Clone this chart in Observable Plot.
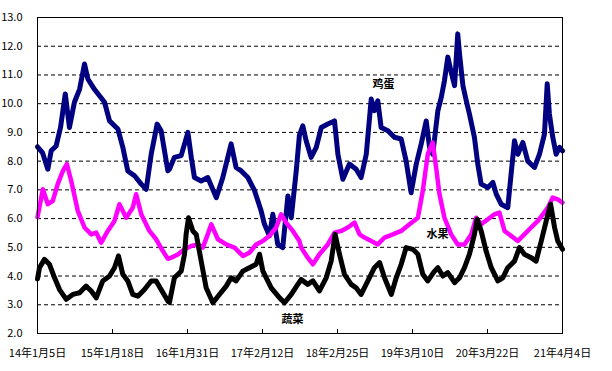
<!DOCTYPE html>
<html>
<head>
<meta charset="utf-8">
<script src="https://cdn.jsdelivr.net/npm/d3@7"></script>
<script src="https://cdn.jsdelivr.net/npm/@observablehq/plot@0.6"></script>
<style>
  html, body { margin: 0; padding: 0; background: #fff; }
  #chart { width: 612px; height: 371px; overflow: hidden; }
</style>
</head>
<body>
<div id="chart"></div>
<script>
// x = day index counted from 2014-01-05 (Excel date category axis)
const tickDays = [0, 378, 756, 1134, 1512, 1890, 2268, 2646];
const tickLabels = ["14年1月5日", "15年1月18日", "16年1月31日", "17年2月12日", "18年2月25日", "19年3月10日", "20年3月22日", "21年4月4日"];
const yTicks = [2, 3, 4, 5, 6, 7, 8, 9, 10, 11, 12, 13];
const gridValues = [3, 4, 5, 6, 7, 8, 9, 10, 11, 12];

// 鸡蛋 (egg)
const eggDays = [0,25,52,69,94,116,140,161,186,212,237,254,287,338,363,405,430,455,489,523,548,573,603,623,657,665,690,724,758,775,791,825,858,901,934,959,976,1001,1027,1060,1094,1127,1144,1169,1186,1211,1236,1262,1279,1304,1320,1337,1354,1379,1405,1430,1463,1497,1514,1539,1572,1606,1631,1657,1682,1698,1715,1732,1766,1799,1833,1858,1883,1909,1934,1959,1976,1992,2018,2035,2051,2068,2085,2102,2118,2127,2144,2161,2177,2202,2219,2236,2270,2295,2312,2337,2370,2387,2404,2421,2446,2471,2505,2530,2555,2569,2580,2597,2614,2631,2646];
const eggValues = [8.5,8.3,7.72,8.36,8.53,9.17,10.34,9.17,10.05,10.5,11.38,10.86,10.5,10.05,9.4,9.12,8.48,7.66,7.49,7.2,7.02,8.24,9.29,9.06,7.66,7.72,8.13,8.19,9.0,8.13,7.43,7.31,7.43,6.73,7.43,8.13,8.6,7.78,7.66,7.43,6.97,6.27,5.8,5.4,6.15,5.1,4.99,6.79,6.03,7.66,8.9,9.23,8.71,8.13,8.48,9.17,9.29,9.4,8.24,7.37,7.9,7.72,7.43,8.24,10.16,9.76,10.1,9.17,9.06,8.83,8.77,8.0,6.9,7.9,8.6,9.4,8.48,8.24,9.76,10.22,10.8,11.62,11.1,10.63,12.43,11.73,10.63,10.1,9.64,8.83,7.9,7.2,7.08,7.26,6.85,6.5,6.38,7.55,8.71,8.24,8.65,8.0,7.78,8.24,8.94,10.69,9.64,8.83,8.24,8.48,8.36];

// 水果 (fruit)
const fruitDays = [0,27,52,77,102,128,148,170,203,237,271,296,321,354,388,413,447,480,497,523,564,598,632,657,674,707,741,775,808,833,858,876,909,951,993,1035,1068,1102,1136,1169,1203,1228,1253,1287,1320,1329,1362,1388,1421,1463,1497,1531,1564,1598,1623,1648,1682,1715,1749,1791,1833,1875,1917,1942,1967,1992,2009,2026,2051,2085,2118,2152,2186,2211,2236,2270,2303,2328,2354,2387,2421,2454,2488,2522,2547,2572,2597,2622,2646];
const fruitValues = [6.05,7.02,6.5,6.62,7.2,7.66,7.9,7.31,6.27,5.69,5.45,5.51,5.16,5.57,5.92,6.5,6.03,6.38,6.85,6.15,5.57,5.28,4.87,4.6,4.64,4.75,4.93,5.05,5.1,4.99,5.45,5.8,5.28,5.1,4.99,4.7,4.81,5.1,5.22,5.4,5.69,6.15,5.86,5.57,5.22,4.99,4.64,4.41,4.76,5.1,5.51,5.57,5.69,5.86,5.45,5.34,5.22,5.1,5.34,5.45,5.57,5.8,6.03,6.97,8.24,8.65,7.78,6.85,6.03,5.45,5.1,5.1,5.45,6.03,5.8,5.98,6.15,6.21,5.57,5.4,5.22,5.45,5.69,5.92,6.15,6.38,6.73,6.67,6.56];

// 蔬菜 (vegetables)
const vegDays = [0,10,35,60,86,111,145,178,212,245,271,296,329,363,388,408,430,455,480,506,539,573,598,623,657,665,690,724,741,749,761,783,800,825,850,884,917,951,976,1001,1035,1068,1102,1119,1136,1178,1220,1245,1279,1312,1329,1362,1388,1421,1455,1480,1500,1522,1547,1581,1606,1631,1665,1698,1724,1749,1783,1808,1833,1858,1892,1917,1942,1967,2001,2018,2043,2068,2102,2127,2152,2177,2202,2216,2236,2261,2287,2320,2345,2370,2404,2429,2454,2488,2513,2539,2564,2586,2606,2622,2646];
const vegValues = [3.9,4.29,4.58,4.41,3.94,3.53,3.19,3.36,3.42,3.65,3.48,3.24,3.83,4.0,4.29,4.7,4.06,3.83,3.36,3.3,3.53,3.83,3.83,3.53,3.13,3.08,3.94,4.17,4.76,5.45,6.03,5.57,5.45,4.52,3.59,3.07,3.36,3.65,3.94,3.83,4.17,4.29,4.41,4.76,4.17,3.59,3.24,3.07,3.36,3.71,3.88,3.71,3.83,3.48,3.94,4.52,5.45,4.76,4.06,3.71,3.59,3.36,3.83,4.29,4.47,3.94,3.36,3.94,4.41,4.99,4.93,4.76,4.06,3.83,4.17,4.29,4.0,4.12,3.77,3.94,4.29,4.76,5.45,5.98,5.57,4.87,4.29,3.83,3.94,4.29,4.52,4.99,4.76,4.64,4.52,5.22,5.92,6.5,5.69,5.22,4.93];

const seriesNames = ["鸡蛋", "水果", "蔬菜"];
const seriesColors = ["#000080", "#FF00FF", "#000000"];

// label anchor positions in data units (day index, value)
const labelNames = ["鸡蛋", "水果", "蔬菜"];
const labelDays = [1744, 2016, 1285];
const labelValues = [10.67, 5.44, 2.48];

const toRows = (days, values, name) => days.map((d, i) => ({day: d, value: values[i], name}));
const egg = toRows(eggDays, eggValues, seriesNames[0]);
const fruit = toRows(fruitDays, fruitValues, seriesNames[1]);
const veg = toRows(vegDays, vegValues, seriesNames[2]);
const labels = labelNames.map((n, i) => ({name: n, day: labelDays[i], value: labelValues[i]}));

const narrow = "'Liberation Sans Narrow', 'Arial Narrow', 'Noto Sans CJK SC', sans-serif";

const chart = Plot.plot({
  width: 612,
  height: 371,
  marginLeft: 37,
  marginRight: 50,
  marginTop: 17,
  marginBottom: 38,
  x: {type: "linear", domain: [0, 2646], label: null},
  y: {domain: [2, 13], label: null},
  style: {fontFamily: narrow, fontSize: "11px", background: "#fff", color: "#000"},
  marks: [
    Plot.gridY(gridValues, {stroke: "#000", strokeOpacity: 1, strokeDasharray: "4,3", strokeWidth: 1}),
    Plot.line(egg, {x: "day", y: "value", stroke: seriesColors[0], strokeWidth: 5, strokeLinejoin: "round", curve: "linear"}),
    Plot.line(fruit, {x: "day", y: "value", stroke: seriesColors[1], strokeWidth: 4.5, strokeLinejoin: "round"}),
    Plot.line(veg, {x: "day", y: "value", stroke: seriesColors[2], strokeWidth: 5, strokeLinejoin: "round"}),
    Plot.frame({stroke: "#000", strokeWidth: 1}),
    Plot.axisY({ticks: yTicks, tickFormat: d => d.toFixed(1), tickSize: 0, tickPadding: 15, label: null, fontSize: 11}),
    Plot.axisX({ticks: tickDays, tickFormat: d => tickLabels[tickDays.indexOf(d)], tickSize: -4, tickPadding: 20, label: null, fontSize: 11}),
    Plot.text(labels, {x: "day", y: "value", text: "name", fontWeight: "bold", fontSize: 11, fontFamily: "'Noto Sans CJK SC', sans-serif", fill: "#000"})
  ]
});
document.getElementById("chart").appendChild(chart);
</script>
</body>
</html>
